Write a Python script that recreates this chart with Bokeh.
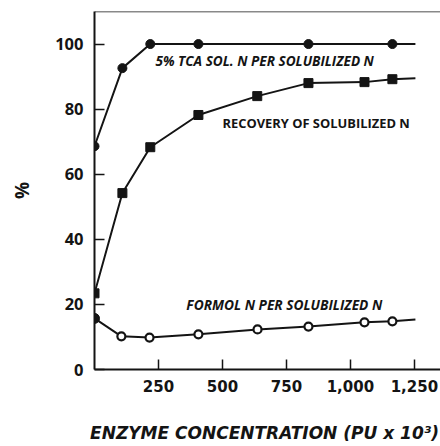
from bokeh.plotting import figure
from bokeh.models import Range1d, Span, Label, FixedTicker, NumeralTickFormatter
from bokeh.embed import file_html
from bokeh.resources import INLINE

# 5% TCA soluble N per solubilized N (%) vs enzyme concentration (PU x 10^3)
tca_conc = [0, 109, 218, 406, 836, 1164]
tca_pct = [68.6, 92.6, 100.0, 100.0, 100.0, 100.0]

# Recovery of solubilized N (%)
rec_conc = [0, 109, 218, 406, 636, 836, 1055, 1164]
rec_pct = [23.4, 54.2, 68.3, 78.2, 84.0, 88.0, 88.3, 89.2]

# Formol N per solubilized N (%)
form_conc = [0, 105, 215, 406, 637, 836, 1055, 1164]
form_pct = [15.7, 10.2, 9.8, 10.8, 12.3, 13.2, 14.5, 14.8]

# where each drawn curve runs out to on the right
curve_end_conc = 1254
tca_end, rec_end, form_end = 100.0, 89.5, 15.4

x_ticks = [250, 500, 750, 1000, 1250]
y_ticks = [0, 20, 40, 60, 80, 100]

FONT = "Open Sans"
WIDE_FONT = "DejaVu Sans"
INK = "#141414"

p = figure(width=440, height=446, output_backend="svg", toolbar_location=None,
           x_range=Range1d(0, 1352), y_range=Range1d(0, 110),
           min_border_left=94, min_border_right=0, min_border_top=11,
           min_border_bottom=77)
p.outline_line_color = None
p.grid.grid_line_color = None
p.background_fill_color = "white"
p.border_fill_color = "white"

for ax in (p.xaxis[0], p.yaxis[0]):
    ax.axis_line_color = INK
    ax.axis_line_width = 2
    ax.major_tick_line_color = INK
    ax.major_tick_line_width = 1.5
    ax.major_tick_in = 10
    ax.major_tick_out = 0
    ax.minor_tick_line_color = None
    ax.major_label_text_font_style = "bold"
    ax.major_label_text_color = INK
    ax.axis_label_text_color = INK

p.xaxis.ticker = FixedTicker(ticks=x_ticks)
p.xaxis.formatter = NumeralTickFormatter(format="0,0")
p.xaxis.major_label_text_font = WIDE_FONT
p.xaxis.major_label_text_font_size = "15px"
p.xaxis.major_label_standoff = 10
p.xaxis.axis_label = "ENZYME CONCENTRATION  (PU x 10\u00b3)"
p.xaxis.axis_label_text_font = WIDE_FONT
p.xaxis.axis_label_text_font_size = "17px"
p.xaxis.axis_label_text_font_style = "bold italic"
p.xaxis.axis_label_standoff = 28

p.yaxis.ticker = FixedTicker(ticks=y_ticks)
p.yaxis.major_label_text_font = FONT
p.yaxis.major_label_text_font_size = "16.5px"
p.yaxis.major_label_standoff = 11
p.yaxis.axis_label = "%"
p.yaxis.axis_label_text_font = FONT
p.yaxis.axis_label_text_font_size = "19px"
p.yaxis.axis_label_text_font_style = "bold"
p.yaxis.axis_label_standoff = 17

# top border of the frame
p.add_layout(Span(location=110, dimension="width", line_color=INK, line_width=1.5))

# curves
p.line(tca_conc + [curve_end_conc], tca_pct + [tca_end], line_color=INK, line_width=2)
p.line(rec_conc + [curve_end_conc], rec_pct + [rec_end], line_color=INK, line_width=2)
p.line(form_conc + [curve_end_conc], form_pct + [form_end], line_color=INK, line_width=2)

# markers
p.scatter(tca_conc, tca_pct, marker="circle", size=9, fill_color=INK, line_color=INK)
p.scatter(rec_conc, rec_pct, marker="square", size=9, fill_color=INK, line_color=INK)
p.scatter(form_conc[1:], form_pct[1:], marker="circle", size=8, fill_color="white",
          line_color=INK, line_width=2.2)
p.scatter(form_conc[:1], form_pct[:1], marker="circle", size=10, fill_color=INK,
          line_color=INK)

# curve labels
for txt, x, y, size, style in [
    ("5% TCA SOL. N PER SOLUBILIZED N", 238, 94.8, "13.6px", "bold italic"),
    ("RECOVERY OF SOLUBILIZED N", 500, 75.7, "12.9px", "bold"),
    ("FORMOL N PER SOLUBILIZED N", 359, 20.0, "13.7px", "bold italic"),
]:
    p.add_layout(Label(x=x, y=y, text=txt, text_font=FONT, text_font_size=size,
                       text_font_style=style, text_color=INK, text_baseline="middle",
                       text_align="left"))

open("out.html", "w").write(file_html(p, INLINE))
